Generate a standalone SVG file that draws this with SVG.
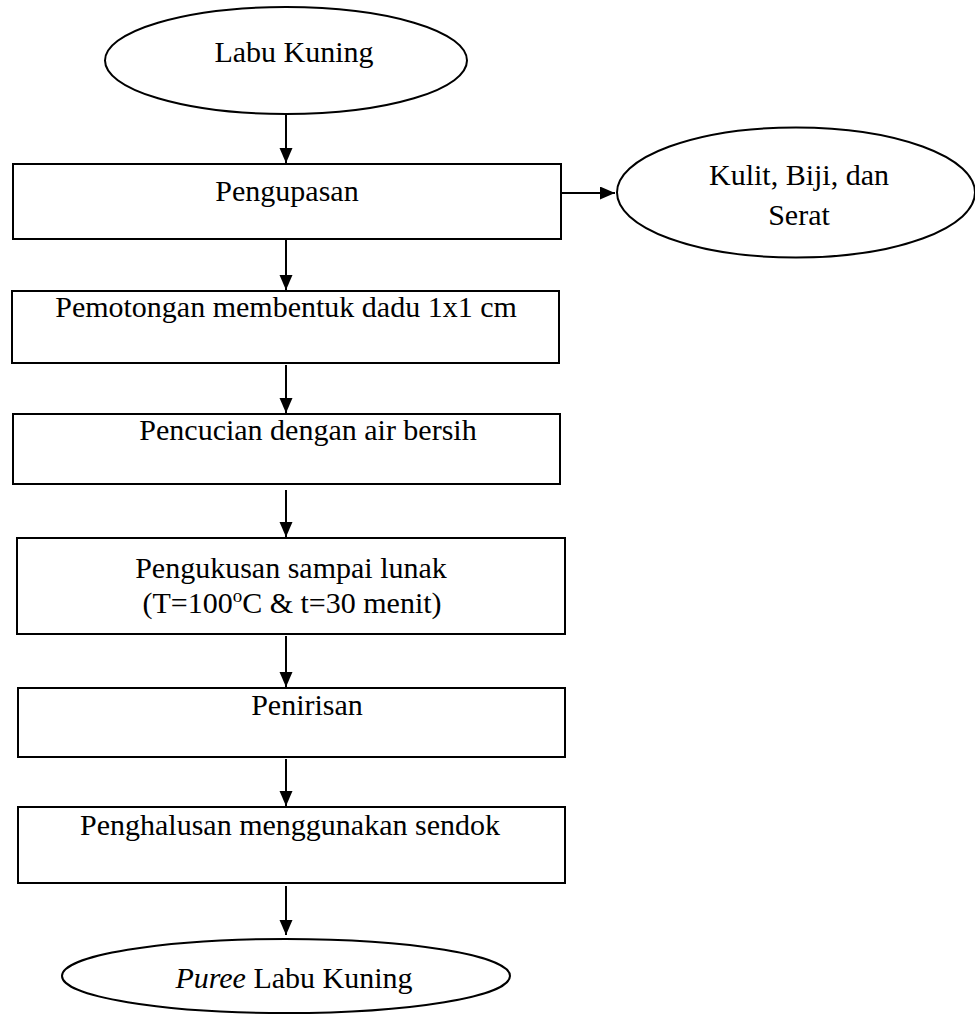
<svg xmlns="http://www.w3.org/2000/svg" width="975" height="1014" viewBox="0 0 975 1014">
<defs>
<style>
.n{fill:#fff;stroke:#000;stroke-width:2}
.t{font-family:"Liberation Serif","Times New Roman",serif;font-size:30px;fill:#000}
.c{stroke:#000;stroke-width:2;fill:none}
</style>
<marker id="ah" markerUnits="userSpaceOnUse" markerWidth="16" markerHeight="14" refX="15" refY="6.5" orient="auto">
<path d="M0,0 L15,6.5 L0,13 Z" fill="#000"/>
</marker>
</defs>
<rect width="975" height="1014" fill="#fff"/>
<g id="connectors">
<line class="c" x1="286" y1="115" x2="286" y2="163" marker-end="url(#ah)"/>
<line class="c" x1="558" y1="193" x2="615" y2="193" marker-end="url(#ah)"/>
<line class="c" x1="286" y1="240" x2="286" y2="290" marker-end="url(#ah)"/>
<line class="c" x1="286" y1="365" x2="286" y2="413" marker-end="url(#ah)"/>
<line class="c" x1="286" y1="490" x2="286" y2="537" marker-end="url(#ah)"/>
<line class="c" x1="286" y1="636" x2="286" y2="687" marker-end="url(#ah)"/>
<line class="c" x1="286" y1="759" x2="286" y2="806" marker-end="url(#ah)"/>
<line class="c" x1="286" y1="886" x2="286" y2="935" marker-end="url(#ah)"/>
</g>
<g id="labu-kuning">
<ellipse class="n" cx="286" cy="60.5" rx="181" ry="53.5"/>
<text class="t" x="294" y="62" text-anchor="middle">Labu Kuning</text>
</g>
<g id="pengupasan">
<rect class="n" x="13" y="164" width="548" height="75"/>
<text class="t" x="287" y="201" text-anchor="middle">Pengupasan</text>
</g>
<g id="kulit-biji-serat">
<ellipse class="n" cx="796" cy="192.5" rx="179" ry="65"/>
<text class="t" x="799" y="185" text-anchor="middle">Kulit, Biji, dan</text>
<text class="t" x="799" y="225" text-anchor="middle">Serat</text>
</g>
<g id="pemotongan">
<rect class="n" x="12" y="291" width="547" height="72"/>
<text class="t" x="286" y="317" text-anchor="middle">Pemotongan membentuk dadu 1x1 cm</text>
</g>
<g id="pencucian">
<rect class="n" x="13" y="414" width="547" height="70"/>
<text class="t" x="308" y="440" text-anchor="middle">Pencucian dengan air bersih</text>
</g>
<g id="pengukusan">
<rect class="n" x="17" y="538" width="548" height="96"/>
<text class="t" x="291" y="578" text-anchor="middle">Pengukusan sampai lunak</text>
<text class="t" x="292" y="613" text-anchor="middle">(T=100<tspan font-size="19" dy="-11">o</tspan><tspan dy="11">C &amp; t=30 menit)</tspan></text>
</g>
<g id="penirisan">
<rect class="n" x="18" y="688" width="547" height="69"/>
<text class="t" x="307" y="715" text-anchor="middle">Penirisan</text>
</g>
<g id="penghalusan">
<rect class="n" x="18" y="807" width="547" height="76"/>
<text class="t" x="290" y="835" text-anchor="middle">Penghalusan menggunakan sendok</text>
</g>
<g id="puree">
<ellipse class="n" cx="286" cy="976" rx="224" ry="37"/>
<text class="t" x="294" y="988" text-anchor="middle"><tspan font-style="italic">Puree</tspan> Labu Kuning</text>
</g>
</svg>
